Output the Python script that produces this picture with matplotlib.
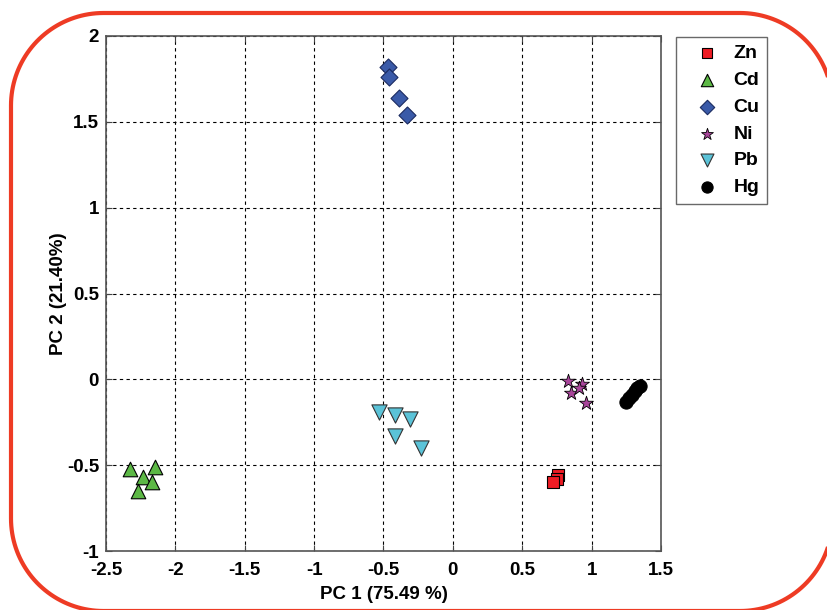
import numpy as np
import matplotlib.pyplot as plt
from matplotlib.patches import PathPatch
from matplotlib.path import Path
from matplotlib.transforms import IdentityTransform

plt.rcParams["font.family"] = ["Liberation Sans", "DejaVu Sans"]
plt.rcParams["font.weight"] = "bold"

# PCA scores
zn_pc1 = [0.76, 0.75, 0.72]
zn_pc2 = [-0.56, -0.58, -0.60]

cd_pc1 = [-2.33, -2.15, -2.23, -2.17, -2.27]
cd_pc2 = [-0.52, -0.51, -0.57, -0.60, -0.65]

cu_pc1 = [-0.47, -0.46, -0.39, -0.33]
cu_pc2 = [1.82, 1.76, 1.64, 1.54]

ni_pc1 = [0.83, 0.93, 0.85, 0.91, 0.96]
ni_pc2 = [-0.01, -0.03, -0.08, -0.05, -0.14]

pb_pc1 = [-0.53, -0.42, -0.31, -0.42, -0.23]
pb_pc2 = [-0.19, -0.21, -0.23, -0.33, -0.40]

hg_pc1 = [1.25, 1.27, 1.29, 1.31, 1.33, 1.35]
hg_pc2 = [-0.13, -0.11, -0.09, -0.07, -0.05, -0.04]

xticks = [-2.5, -2, -1.5, -1, -0.5, 0, 0.5, 1, 1.5]
yticks = [-1, -0.5, 0, 0.5, 1, 1.5, 2]


def fmt(v):
    return f"{v:g}"


def rounded_rect_path(x0, y0, x1, y1, r):
    # closed outline with true circular corners, in display pixels
    pts = []
    corners = [
        (x1 - r, y1 - r, 0),     # top right
        (x0 + r, y1 - r, 90),    # top left
        (x0 + r, y0 + r, 180),   # bottom left
        (x1 - r, y0 + r, 270),   # bottom right
    ]
    for cx, cy, start in corners:
        a = np.radians(np.linspace(start, start + 90, 40))
        pts.extend(zip(cx + r * np.cos(a), cy + r * np.sin(a)))
    pts.append(pts[0])
    return Path(pts, closed=True)


def main() -> None:
    W, H = 828, 610
    fig = plt.figure(figsize=(W / 100, H / 100), dpi=100)

    # red rounded frame, running off the right and bottom edges
    left, top, right, bottom = 11, 13, 832.5, 611
    frame = PathPatch(
        rounded_rect_path(left, H - bottom, right, H - top, 92.5),
        transform=IdentityTransform(),
        facecolor="none",
        edgecolor="#ee3b24",
        linewidth=3.0,
    )
    fig.patches.append(frame)

    ax = fig.add_axes([106 / W, 1 - 551 / H, (661 - 106) / W, (551 - 36) / H])

    ax.scatter(zn_pc1, zn_pc2, marker="s", s=80, c="#ee1c24", edgecolors="black",
               linewidths=0.8, label="Zn", zorder=3)
    ax.scatter(cd_pc1, cd_pc2, marker="^", s=110, c="#5cb845", edgecolors="black",
               linewidths=0.8, label="Cd", zorder=3)
    ax.scatter(cu_pc1, cu_pc2, marker="D", s=75, c="#3a5aa8", edgecolors="#1a2a60",
               linewidths=0.8, label="Cu", zorder=3)
    ax.scatter(ni_pc1, ni_pc2, marker="*", s=110, c="#a8459a", edgecolors="black",
               linewidths=0.6, label="Ni", zorder=3)
    ax.scatter(pb_pc1, pb_pc2, marker="v", s=120, c="#5bc3d8", edgecolors="#333333",
               linewidths=0.8, label="Pb", zorder=3)
    ax.scatter(hg_pc1, hg_pc2, marker="o", s=90, c="black", edgecolors="black",
               linewidths=0.8, label="Hg", zorder=3)

    ax.set_xlim(-2.5, 1.5)
    ax.set_ylim(-1, 2)
    ax.set_xticks(xticks)
    ax.set_yticks(yticks)
    ax.set_xticklabels([fmt(v) for v in xticks])
    ax.set_yticklabels([fmt(v) for v in yticks])
    ax.tick_params(direction="in", length=4, labelsize=13.5,
                   top=True, right=True, color="#444444")
    ax.tick_params(axis="x", pad=8)
    ax.tick_params(axis="y", pad=5)
    for lab in ax.get_xticklabels() + ax.get_yticklabels():
        lab.set_fontweight("bold")

    ax.grid(True, color="black", linestyle=(0, (3, 3)), linewidth=0.8)
    ax.set_axisbelow(True)
    for sp in ax.spines.values():
        sp.set_color("#555555")
        sp.set_linewidth(1.2)

    ax.set_xlabel("PC 1 (75.49 %)", fontsize=13.5, fontweight="bold", labelpad=5)
    ax.set_ylabel("PC 2 (21.40%)", fontsize=13.5, fontweight="bold", labelpad=0)

    leg = ax.legend(
        loc="upper left",
        bbox_to_anchor=(676 / W, 1 - 37 / H),
        bbox_transform=fig.transFigure,
        borderaxespad=0,
        frameon=True,
        fancybox=False,
        edgecolor="#444444",
        markerscale=0.85,
        handlelength=2.4,
        handletextpad=0.15,
        labelspacing=0.47,
        borderpad=0.4,
        prop={"weight": "bold", "size": 14},
    )
    leg.get_frame().set_linewidth(1.0)

    fig.savefig("out.png", dpi=100)
    plt.close(fig)


if __name__ == "__main__":
    main()
